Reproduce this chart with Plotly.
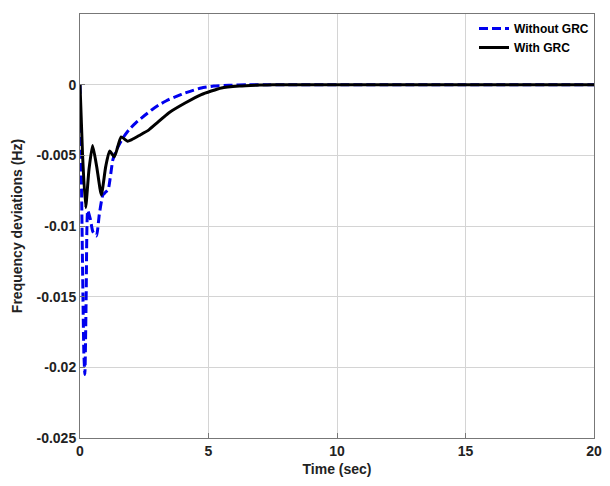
import plotly.graph_objects as go

t_without = [0, 0.05, 0.1, 0.15, 0.19, 0.24, 0.3, 0.4, 0.5, 0.64, 0.75, 0.89, 1.0, 1.1, 1.28, 1.45,
             1.66, 1.9, 2.17, 2.5, 2.8, 3.1, 3.45, 3.8, 4.09, 4.4, 4.72, 5.2, 5.8, 6.5, 7.2, 20]
f_without = [0, -0.006, -0.013, -0.019, -0.0205, -0.015, -0.0089, -0.0095, -0.0104, -0.0107, -0.0092,
             -0.0078, -0.0076, -0.0074, -0.0053, -0.0045, -0.0038, -0.0032, -0.0027, -0.0022, -0.00177,
             -0.0014, -0.00106, -0.0008, -0.00059, -0.0004, -0.00023, -0.0001, -0.00004, -0.00001, 0, 0]

t_with = [0, 0.1, 0.22, 0.35, 0.49, 0.65, 0.83, 1.0, 1.15, 1.34, 1.6, 1.85, 2.0, 2.3, 2.68, 3.0,
          3.45, 4.09, 4.72, 5.5, 6.2, 7.0, 7.5, 20]
f_with = [0, -0.005, -0.0087, -0.006, -0.0043, -0.0058, -0.0078, -0.0058, -0.0047, -0.0051, -0.0037,
          -0.0040, -0.0039, -0.0036, -0.0032, -0.0027, -0.0020, -0.0013, -0.0007, -0.00023, -0.0001,
          -0.00003, 0, 0]

x_ticks = [0, 5, 10, 15, 20]
y_ticks = [0.005, 0, -0.005, -0.01, -0.015, -0.02, -0.025]
y_tick_text = ["0.005", "0", "-0.005", "-0.01", "-0.015", "-0.02", "-0.025"]

fig = go.Figure()
fig.add_trace(go.Scatter(x=t_without, y=f_without, mode="lines", name="<b>Without GRC</b>",
                         line=dict(color="#0000EE", width=3, dash="9px,4px", shape="spline", smoothing=0.5)))
fig.add_trace(go.Scatter(x=t_with, y=f_with, mode="lines", name="<b>With GRC</b>",
                         line=dict(color="black", width=3, shape="spline", smoothing=0.5)))

font = dict(family="Liberation Sans, Arial", size=14, color="#222222")
fig.update_layout(
    width=594, height=470,
    margin=dict(l=72, r=8, t=6, b=40, autoexpand=False),
    paper_bgcolor="white", plot_bgcolor="white",
    font=font,
    showlegend=True,
    legend=dict(x=1, y=1, xanchor="right", yanchor="top", bgcolor="white",
                font=dict(family="Liberation Sans, Arial", size=12, color="black"),
                tracegroupgap=0, itemwidth=30),
    xaxis=dict(range=[0, 20], tickvals=x_ticks, ticktext=[f"<b>{v}</b>" for v in x_ticks],
               automargin=False, ticklabeloverflow="allow",
               showgrid=True, gridcolor="#d4d4d4", gridwidth=1, zeroline=False,
               showline=True, linecolor="#777777", linewidth=1, mirror=True,
               ticks="inside", ticklen=5, tickcolor="#777777",
               title=dict(text="<b>Time (sec)</b>", font=dict(size=14, color="#222222"), standoff=6)),
    yaxis=dict(range=[-0.025, 0.005], tickvals=y_ticks, ticktext=[f"<b>{s}</b>" for s in y_tick_text],
               automargin=False,
               showgrid=True, gridcolor="#d4d4d4", gridwidth=1, zeroline=False,
               showline=True, linecolor="#777777", linewidth=1, mirror=True,
               ticks="inside", ticklen=5, tickcolor="#777777",
               title=dict(text="<b>Frequency deviations (Hz)</b>", font=dict(size=14, color="#222222"), standoff=10)),
)
fig.write_html("out.html")
